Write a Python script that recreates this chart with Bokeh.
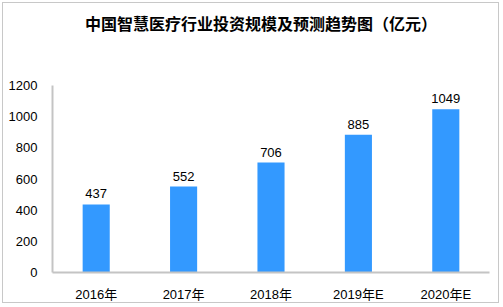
from bokeh.plotting import figure
from bokeh.models import ColumnDataSource, Range1d, LabelSet
from bokeh.core.properties import value
from bokeh.embed import file_html
from bokeh.resources import INLINE

years = ["2016年", "2017年", "2018年", "2019年E", "2020年E"]
values = [437, 552, 706, 885, 1049]
y_ticks = [0, 200, 400, 600, 800, 1000, 1200]
title_text = "中国智慧医疗行业投资规模及预测趋势图（亿元）"

# layout: axis spans 0..1200; frame extended upward to leave room for the title
AXIS_MAX = 1200
PX_PER_UNIT = 191 / 1200
TOP_EXTRA_PX = 82
TITLE_PX_ABOVE = 64

src = ColumnDataSource(data=dict(x=years, y=values, lab=[str(v) for v in values]))

y_end = AXIS_MAX + TOP_EXTRA_PX / PX_PER_UNIT
p = figure(x_range=years, y_range=Range1d(0, y_end), width=497, height=301,
           output_backend="svg", toolbar_location=None,
           min_border_left=49, min_border_right=11, min_border_top=2, min_border_bottom=26,
           styles={"border": "1px solid #c8c8c8", "margin": "2px"})
p.vbar(x="x", top="y", width=0.31, source=src, fill_color="#3399ff", line_color=None)

labels = LabelSet(x="x", y="y", text="lab", source=src, text_align="center", y_offset=6,
                  text_font=value("Liberation Sans"), text_font_size=value("13px"),
                  text_color="#000000")
p.add_layout(labels)

p.text(x=[years[2]], y=[AXIS_MAX + TITLE_PX_ABOVE / PX_PER_UNIT], text=[title_text],
       x_offset=-10, text_align="center", text_baseline="middle",
       text_font=value("Noto Sans CJK SC"), text_font_style="bold",
       text_font_size="16px", text_color="#000000")

p.xgrid.grid_line_color = None
p.ygrid.grid_line_color = None
p.outline_line_color = None
for ax in (p.xaxis, p.yaxis):
    ax.axis_line_color = "#c4c4c4"
    ax.axis_line_width = 2
    ax.major_tick_line_color = None
    ax.minor_tick_line_color = None
    ax.major_label_text_font = "Liberation Sans, Noto Sans CJK SC"
    ax.major_label_text_font_size = "13px"
    ax.major_label_text_color = "#000000"
p.yaxis.ticker = y_ticks
p.yaxis.bounds = (0, AXIS_MAX)
p.yaxis.major_label_standoff = 9
p.xaxis.major_label_standoff = 8
p.x_range.range_padding = 0

open("out.html", "w").write(file_html(p, INLINE))
